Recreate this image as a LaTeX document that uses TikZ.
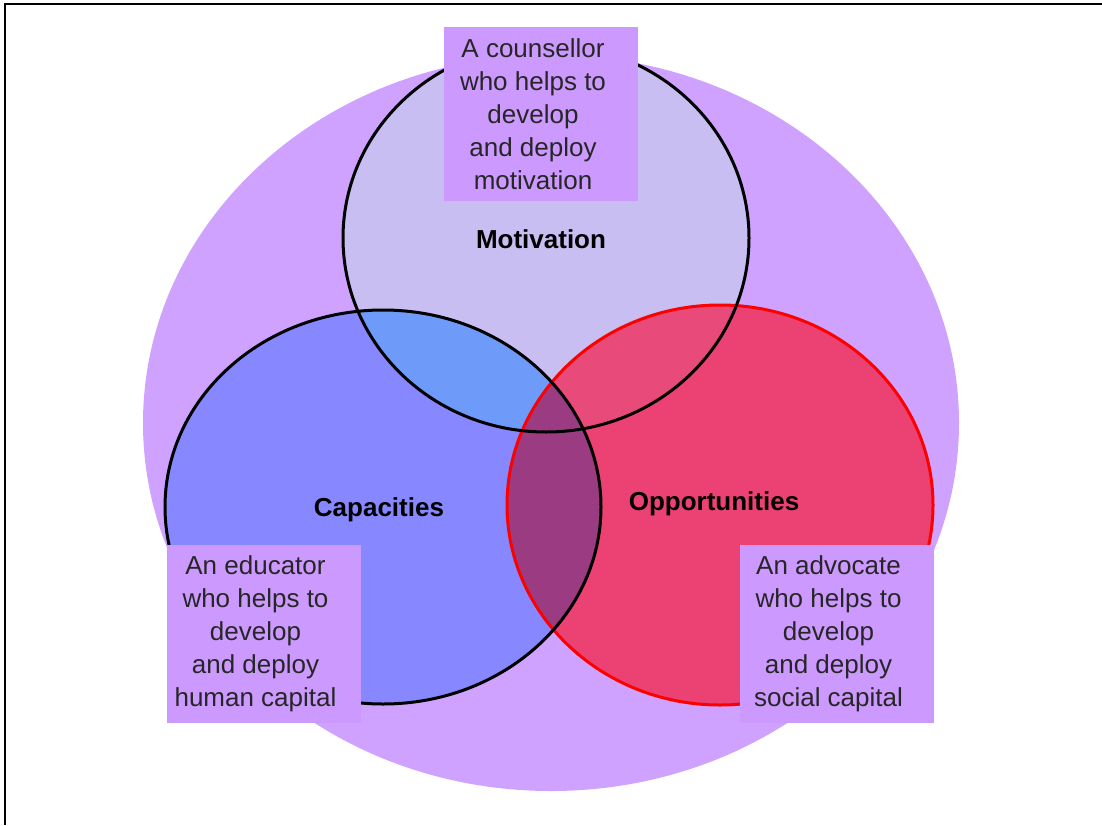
\documentclass[tikz,border=0pt]{standalone}
\usepackage{fontspec}
\setmainfont{Liberation Sans}
\definecolor{bglilac}{RGB}{208,162,255}
\definecolor{boxlilac}{RGB}{204,153,255}
\definecolor{motfill}{RGB}{200,190,242}
\definecolor{capfill}{RGB}{135,135,255}
\definecolor{capmotfill}{RGB}{110,155,250}
\definecolor{oppfill}{RGB}{236,65,115}
\definecolor{oppmotfill}{RGB}{232,74,122}
\definecolor{oppcapfill}{RGB}{155,60,130}
\tikzset{
  boxnode/.style={fill=boxlilac, inner sep=0pt, minimum width=97pt, minimum height=89pt},
  boxtext/.style={align=center, font=\fontsize{13}{16.5}\selectfont, text=black!85},
  setlabel/.style={anchor=base, font=\fontsize{13}{15}\selectfont\bfseries},
  ring/.style={line width=1.5pt}
}
\begin{document}
\begin{tikzpicture}[x=0.5pt,y=-0.5pt]

	\useasboundingbox (0,0) rectangle (1102,825);
	\draw[line width=1.1pt] (5,825) -- (5,4) -- (1102,4);

	\coordinate (bg) at (551,423);
	\coordinate (mot) at (546,238);
	\coordinate (cap) at (383,507);
	\coordinate (opp) at (720,505);

	% background and the three sets
	\fill[bglilac] (bg) ellipse [x radius=408, y radius=368];
	\fill[motfill] (mot) ellipse [x radius=203, y radius=194];
	\fill[capfill] (cap) ellipse [x radius=218, y radius=197];
	\fill[oppfill] (opp) ellipse [x radius=213, y radius=200];

	% overlaps
	\begin{scope}
		\clip (cap) ellipse [x radius=218, y radius=197];
		\fill[capmotfill] (mot) ellipse [x radius=203, y radius=194];
	\end{scope}
	\begin{scope}
		\clip (opp) ellipse [x radius=213, y radius=200];
		\fill[oppmotfill] (mot) ellipse [x radius=203, y radius=194];
		\fill[oppcapfill] (cap) ellipse [x radius=218, y radius=197];
	\end{scope}

	% outlines
	\draw[ring, red] (opp) ellipse [x radius=213, y radius=200];
	\draw[ring, black] (mot) ellipse [x radius=203, y radius=194];
	\draw[ring, black] (cap) ellipse [x radius=218, y radius=197];

	\node[setlabel] (motlabel) at (541,248) {Motivation};
	\node[setlabel] (caplabel) at (379,516) {Capacities};
	\node[setlabel] (opplabel) at (714,510) {Opportunities};

	% role boxes
	\node[boxnode, minimum height=87pt] (counsellor) at (541,114) {};
	\node[boxnode] (educator) at (263.5,634) {};
	\node[boxnode] (advocate) at (836.5,634) {};

	\node[boxtext] (counsellortext) at ([xshift=-4pt]counsellor.center) {A counsellor\\who helps to\\develop\\and deploy\\motivation};
	\node[boxtext] (educatortext) at ([xshift=-4pt]educator.center) {An educator\\who helps to\\develop\\and deploy\\human capital};
	\node[boxtext] (advocatetext) at ([xshift=-4pt]advocate.center) {An advocate\\who helps to\\develop\\and deploy\\social capital};

\end{tikzpicture}
\end{document}
